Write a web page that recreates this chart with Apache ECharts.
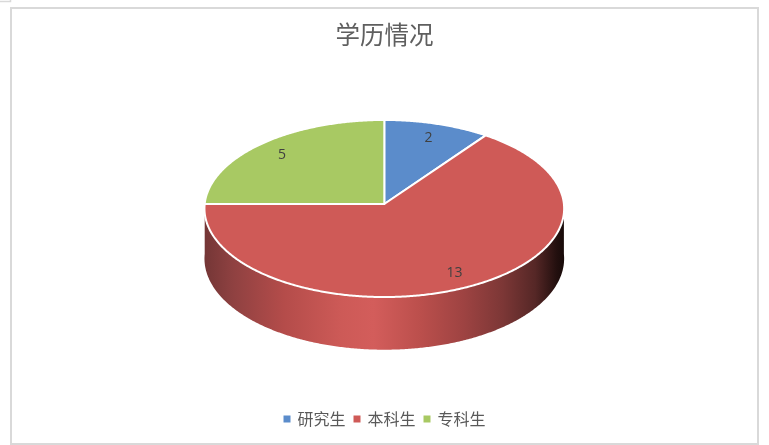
<!DOCTYPE html>
<html>
<head>
<meta charset="utf-8">
<style>html,body{margin:0;padding:0;background:#fff}#c{width:769px;height:445px}</style>
<script src="https://cdn.jsdelivr.net/npm/echarts@6/dist/echarts.min.js"></script>
</head>
<body>
<div id="c"></div>
<script>
var titleText = '学历情况';
var categories = ['研究生', '本科生', '专科生'];
var values = [2, 13, 5];
var colors = ['#5b8ccb', '#cf5a57', '#a8c963'];
var wallStops = [
  [0, '#743636'], [0.08, '#8f4141'], [0.22, '#b44c4a'], [0.38, '#cd5a57'], [0.47, '#d35d5b'],
  [0.6, '#bb4f4c'], [0.72, '#9e4342'], [0.83, '#7c3736'], [0.92, '#552726'], [0.98, '#220f0e'], [1, '#180a09']
];

var CX = 384.3, CY = 204, RX = 179.6, RY = 88.3, PERSP = 0.0508, DEPTH = 50, LABEL_R = 0.83;

function project(deg, r) {
  var t = deg * Math.PI / 180;
  var X = Math.sin(t) * r, Y = Math.cos(t) * r;
  var w = 1 + PERSP * Y;
  return { x: CX + RX * X / w, y: CY - RY * Y / w, d: DEPTH / w };
}
function arc(from, to) {
  var pts = [], n = Math.max(2, Math.ceil(Math.abs(to - from) * 2));
  for (var i = 0; i <= n; i++) pts.push(project(from + (to - from) * i / n, 1));
  return pts;
}
var total = values.reduce(function (a, b) { return a + b; }, 0);

function makeRender(idx) {
  return function (params, api) {
    var before = 0;
    for (var i = 0; i < idx; i++) before += values[i];
    var v = api.value(0);
    var a0 = before / total * 360, a1 = (before + v) / total * 360;
    var children = [];
    var w0 = Math.max(a0, 90), w1 = Math.min(a1, 270);
    if (w1 > w0) {
      var rim = arc(w0, w1), wall = [];
      rim.forEach(function (p) { wall.push([p.x, p.y]); });
      rim.slice().reverse().forEach(function (p) { wall.push([p.x, p.y + p.d]); });
      children.push({
        type: 'polygon',
        shape: { points: wall },
        style: {
          fill: new echarts.graphic.LinearGradient(0, 0, 1, 0, wallStops.map(function (s) {
            return { offset: s[0], color: s[1] };
          })),
          stroke: null
        }
      });
    }
    var top = [[CX, CY]];
    arc(a0, a1).forEach(function (p) { top.push([p.x, p.y]); });
    children.push({
      type: 'polygon',
      shape: { points: top },
      style: { fill: colors[idx], stroke: '#ffffff', lineWidth: 2, lineJoin: 'round' }
    });
    var lp = project((a0 + a1) / 2, LABEL_R);
    children.push({
      type: 'text',
      z2: 10,
      style: {
        x: lp.x, y: lp.y + 1.5, text: String(v), fill: '#404040',
        font: '14px "Open Sans", "Liberation Sans", sans-serif',
        textAlign: 'center', textVerticalAlign: 'middle'
      }
    });
    return { type: 'group', children: children };
  };
}

var chart = echarts.init(document.getElementById('c'), null, { renderer: 'canvas' });
chart.setOption({
  animation: false,
  backgroundColor: '#ffffff',
  title: {
    text: titleText, left: 'center', top: 17,
    textStyle: { fontFamily: '"Noto Sans CJK SC"', fontSize: 24.5, fontWeight: 'normal', color: '#5f5f5f' }
  },
  legend: {
    data: categories, left: 'center', top: 406, icon: 'rect',
    itemWidth: 7, itemHeight: 7, itemGap: 8,
    textStyle: { fontFamily: '"Noto Sans CJK SC"', fontSize: 16, color: '#595959', padding: [0, 0, 0, 2] }
  },
  graphic: [
    { type: 'rect', silent: true, shape: { x: 11, y: 8, width: 747, height: 436 },
      style: { fill: 'none', stroke: '#d9d9d9', lineWidth: 2 } },
    { type: 'polyline', silent: true, shape: { points: [[0, 1.5], [10.5, 1.5], [10.5, 0]] },
      style: { fill: 'none', stroke: '#d9d9d9', lineWidth: 1.5 } }
  ],
  series: categories.map(function (name, i) {
    return {
      type: 'custom', name: name, coordinateSystem: 'none',
      itemStyle: { color: colors[i] },
      renderItem: makeRender(i),
      data: [[values[i]]]
    };
  })
});
</script>
</body>
</html>
